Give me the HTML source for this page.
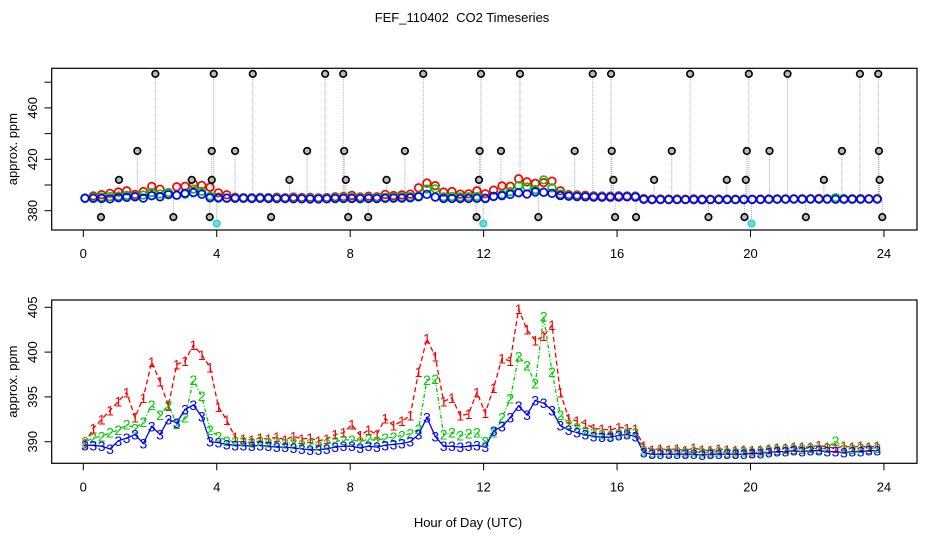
<!DOCTYPE html>
<html><head><meta charset="utf-8"><style>
html,body{margin:0;padding:0;background:#fff;}
svg{display:block;font-family:"Liberation Sans",sans-serif;}
</style></head><body>
<svg id="chart" width="936" height="540" viewBox="0 0 936 540">
<rect x="0" y="0" width="936" height="540" fill="#fff"/>
<text x="462" y="22" font-size="13" text-anchor="middle">FEF_110402 &#160;CO2 Timeseries</text>
<g id="topPanel"></g>
<g id="botPanel"></g>
<text x="468" y="527" font-size="13" text-anchor="middle">Hour of Day (UTC)</text>
</svg>
<script>
const times = [
0.05,0.30,0.55,0.80,1.05,1.30,1.55,1.80,2.05,2.30,2.55,2.80,3.05,3.30,3.55,3.80,
4.05,4.30,4.55,4.80,5.05,5.30,5.55,5.80,6.05,6.30,6.55,6.80,7.05,7.30,7.55,7.80,
8.05,8.30,8.55,8.80,9.05,9.30,9.55,9.80,10.05,10.30,10.55,10.80,11.05,11.30,11.55,11.80,
12.05,12.30,12.55,12.80,13.05,13.30,13.55,13.80,14.05,14.30,14.55,14.80,15.05,15.30,15.55,15.80,
16.05,16.30,16.55,16.80,17.05,17.30,17.55,17.80,18.05,18.30,18.55,18.80,19.05,19.30,19.55,19.80,
20.05,20.30,20.55,20.80,21.05,21.30,21.55,21.80,22.05,22.30,22.55,22.80,23.05,23.30,23.55,23.80];
const series1 = [
389.8,391.5,392.5,393.5,394.5,395.5,392.7,394.9,398.9,396.7,394.0,398.6,399.0,400.8,399.7,398.3,
393.9,392.4,390.5,390.3,390.2,390.4,390.3,390.5,390.2,390.6,390.3,390.4,390.1,390.3,390.8,391.0,
391.9,390.7,391.3,390.8,392.6,391.8,392.3,392.9,397.8,401.5,399.5,394.5,394.9,392.9,393.1,395.5,
393.2,396.0,399.3,399.0,404.8,402.5,401.3,401.8,403.0,395.5,392.6,392.3,392.0,391.5,391.4,391.3,
391.6,391.5,391.4,389.5,389.1,389.2,389.1,389.2,389.0,389.3,389.1,389.0,389.2,389.1,389.0,389.1,
389.0,389.1,389.2,389.3,389.3,389.4,389.4,389.4,389.6,389.4,389.3,389.5,389.4,389.5,389.4,389.5];
const series2 = [
390.0,390.4,390.6,391.0,391.3,391.9,391.5,392.2,394.1,393.0,394.1,392.0,392.7,396.9,395.1,391.3,
390.6,390.1,390.0,390.0,389.9,390.1,389.9,390.0,389.8,389.9,389.7,389.8,389.6,389.8,390.0,390.2,
390.2,390.0,390.3,390.1,390.4,390.5,390.7,390.9,391.4,396.9,397.0,390.8,391.0,390.7,390.9,391.0,
390.0,391.0,392.7,394.8,399.5,398.5,396.5,404.0,397.8,393.0,392.0,391.6,391.2,391.0,390.8,390.7,
390.9,391.0,391.0,389.0,388.8,388.9,388.8,388.9,388.8,388.9,388.8,388.8,388.9,388.8,388.8,388.9,
388.8,388.9,389.0,389.1,389.2,389.2,389.2,389.3,389.2,389.3,390.1,389.2,389.2,389.3,389.2,389.3];
const series3 = [
389.6,389.6,389.5,389.2,390.1,390.4,390.8,389.8,391.7,390.8,392.5,392.1,393.6,394.1,392.8,390.0,
389.9,389.7,389.6,389.6,389.5,389.6,389.5,389.4,389.4,389.3,389.2,389.1,389.1,389.2,389.4,389.5,
389.5,389.3,389.5,389.4,389.6,389.7,389.8,390.0,390.8,392.7,390.6,389.5,389.5,389.4,389.5,389.6,
389.4,391.2,391.7,392.7,394.0,393.0,394.6,394.3,393.5,391.8,391.3,391.0,390.8,390.6,390.5,390.5,
390.7,390.8,390.6,388.8,388.6,388.6,388.6,388.6,388.6,388.6,388.5,388.6,388.6,388.6,388.6,388.6,
388.7,388.7,388.8,388.9,388.9,389.0,388.9,389.0,389.0,388.9,388.9,388.8,388.9,388.9,389.0,389.0];
const outlierTimes = [0.53,1.07,1.62,2.16,2.70,3.25,3.79,3.85,3.85,3.91,4.55,5.08,5.63,6.18,6.71,7.25,7.79,7.82,7.87,7.94,8.54,9.09,9.64,10.19,11.79,11.86,11.88,11.92,12.52,13.09,13.64,14.73,15.27,15.82,15.84,15.89,15.94,16.57,17.11,17.64,18.19,18.74,19.29,19.82,19.86,19.89,19.95,20.57,21.11,21.66,22.20,22.74,23.28,23.83,23.85,23.87,23.95];
const outlierValues = [375,404,426.5,486.5,375,404,375,426.5,404,486.5,426.5,486.5,375,404,426.5,486.5,486.5,426.5,404,375,375,404,426.5,486.5,375,404,426.5,486.5,426.5,486.5,375,426.5,486.5,486.5,426.5,404,375,375,404,426.5,486.5,375,404,375,404,426.5,486.5,426.5,486.5,375,404,426.5,486.5,486.5,426.5,404,375];
const calTimes = [4.0,11.99,20.03];
const calValues = [370,370,370];
const xTicks = [0,4,8,12,16,20,24];
const topYTicks = [380,400,420,440,460,480];
const topYLabels = [380,420,460];
const botYTicks = [390,395,400,405];

const NS="http://www.w3.org/2000/svg";
function mk(parent,tag,attrs){const e=document.createElementNS(NS,tag);for(const k in attrs)e.setAttribute(k,attrs[k]);parent.appendChild(e);return e;}
const sx=h=>83.3+h*33.36;
const syT=v=>210.7-(v-380)*1.285;
const syB=v=>441.7-(v-390)*8.96;
const cols=["#ff0000","#00cc00","#0000ff"];
const allS=[series1,series2,series3];

function panel(g,y0,y1,sy,yt,yl,title){
  let r=mk(g,'rect',{x:51.7,y:y0,width:865.3,height:y1-y0,fill:'none',stroke:'#000','stroke-width':1.2});
  
  
  xTicks.forEach(t=>{
    let l=mk(g,'line',{x1:sx(t),x2:sx(t),y1:y1,y2:y1+7,stroke:'#000'});
    
    
    let tx=mk(g,'text',{x:sx(t),y:y1+28,'font-size':13,'text-anchor':'middle'});tx.textContent=t;
    
    
  });
  yt.forEach(v=>{
    let l=mk(g,'line',{x1:44.5,x2:51.7,y1:sy(v),y2:sy(v),stroke:'#000'});
    
    
  });
  yl.forEach(v=>{
    let tx=mk(g,'text',{x:0,y:0,'font-size':13,'text-anchor':'middle',transform:`translate(37,${sy(v)}) rotate(-90)`});tx.textContent=v;
    
    
  });
  let yt2=mk(g,'text',{x:0,y:0,'font-size':13,'text-anchor':'middle',transform:`translate(17,${(y0+y1)/2}) rotate(-90)`});yt2.textContent=title;
  
  
}
const topG=document.getElementById('topPanel'), botG=document.getElementById('botPanel');
panel(topG,68.3,230,syT,topYTicks,topYLabels,'approx. ppm');
panel(botG,300,463.3,syB,botYTicks,botYTicks,'approx. ppm');

outlierTimes.forEach((t,i)=>{
  let l=mk(topG,'line',{x1:sx(t),x2:sx(t),y1:syT(390),y2:syT(outlierValues[i]),stroke:'#aaa','stroke-dasharray':'1,1'});
  
  
});
calTimes.forEach((t,i)=>{
  let l=mk(topG,'line',{x1:sx(t),x2:sx(t),y1:syT(390),y2:syT(calValues[i]),stroke:'#aaa','stroke-dasharray':'1,1'});
  
  
});
allS.forEach((s,k)=>{
  s.forEach((v,i)=>{
    let c=mk(topG,'circle',{cx:sx(times[i]),cy:syT(v),r:3.8,fill:'none',stroke:cols[k],'stroke-width':1.7});
    
    
  });
});
outlierTimes.forEach((t,i)=>{
  let c=mk(topG,'circle',{cx:sx(t),cy:syT(outlierValues[i]),r:3.3,fill:'#bbb',stroke:'#000','stroke-width':1.6});
  
  
});
calTimes.forEach((t,i)=>{
  let c=mk(topG,'circle',{cx:sx(t),cy:syT(calValues[i]),r:3.3,fill:'#bbb',stroke:'#00e5ee','stroke-width':1.6});
  
  
});

const dashes=['5,3','1,2,4,2','none'];
allS.forEach((s,k)=>{
  let d='';
  s.forEach((v,i)=>{
    const cmd=(i===0||times[i]-times[i-1]>0.3)?'M':'L';
    d+=cmd+sx(times[i]).toFixed(1)+','+syB(v).toFixed(1)+' ';
  });
  let p=mk(botG,'path',{d:d,fill:'none',stroke:cols[k],'stroke-width':1.3,'stroke-dasharray':dashes[k]});
  
  
});
allS.forEach((s,k)=>{
  s.forEach((v,i)=>{
    let t=mk(botG,'text',{x:sx(times[i]),y:syB(v)+5,'font-size':14,'text-anchor':'middle',fill:cols[k]});
    t.textContent=String(k+1);
    
    
  });
});
</script>
</body></html>
